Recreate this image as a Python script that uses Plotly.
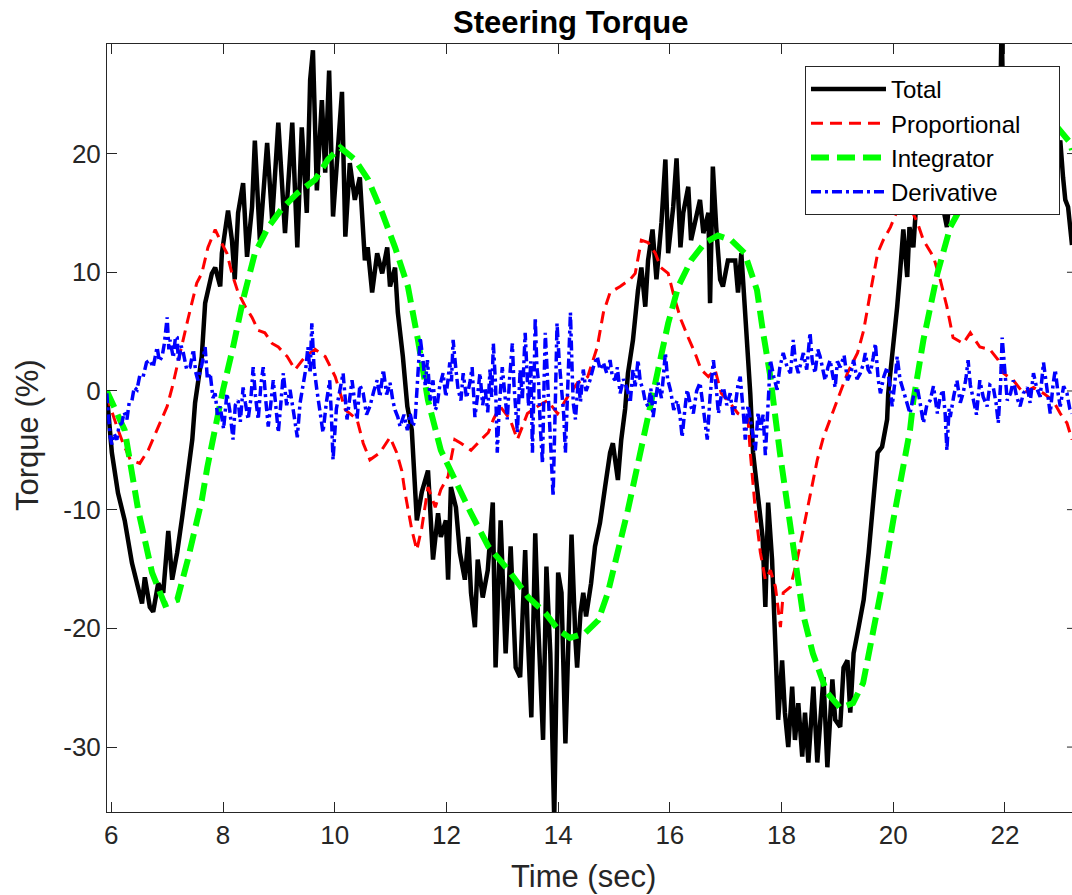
import plotly.graph_objects as go

# ---- Steering torque components (time in s, torque in %) ----
total_t = [5.92, 5.96, 6.01, 6.12, 6.24, 6.37, 6.48, 6.55, 6.60, 6.69, 6.75, 6.84, 6.93, 7.02, 7.09,
           7.18, 7.27, 7.36, 7.45, 7.50, 7.62, 7.68, 7.80, 7.86, 7.95, 7.98, 8.09, 8.16, 8.21, 8.27,
           8.36, 8.43, 8.52, 8.57, 8.66, 8.79, 8.88, 8.99, 9.11, 9.24, 9.33, 9.41, 9.50, 9.56, 9.61,
           9.68, 9.77, 9.83, 9.90, 9.97, 10.06, 10.13, 10.19, 10.27, 10.36, 10.45, 10.54, 10.59, 10.67,
           10.76, 10.85, 10.94, 10.99, 11.08, 11.13, 11.22, 11.30, 11.38, 11.47, 11.56, 11.67, 11.76,
           11.85, 11.90, 11.99, 12.03, 12.08, 12.17, 12.24, 12.33, 12.39, 12.44, 12.51, 12.56, 12.65,
           12.74, 12.83, 12.88, 12.97, 13.06, 13.15, 13.24, 13.32, 13.41, 13.46, 13.52, 13.59, 13.64,
           13.73, 13.79, 13.86, 13.93, 14.00, 14.06, 14.13, 14.18, 14.24, 14.31, 14.34, 14.40, 14.45,
           14.50, 14.59, 14.66, 14.75, 14.84, 14.93, 14.98, 15.07, 15.13, 15.20, 15.25, 15.34, 15.43,
           15.49, 15.56, 15.61, 15.69, 15.76, 15.85, 15.92, 15.97, 16.06, 16.12, 16.19, 16.24, 16.33,
           16.38, 16.45, 16.54, 16.60, 16.69, 16.72, 16.77, 16.83, 16.90, 16.95, 17.04, 17.17, 17.22,
           17.28, 17.37, 17.44, 17.49, 17.58, 17.66, 17.71, 17.76, 17.83, 17.89, 17.94, 18.01, 18.06,
           18.12, 18.19, 18.24, 18.30, 18.37, 18.42, 18.48, 18.57, 18.64, 18.69, 18.75, 18.82, 18.91,
           18.96, 19.05, 19.11, 19.18, 19.23, 19.29, 19.38, 19.47, 19.56, 19.63, 19.72, 19.80, 19.89,
           19.91, 20.00, 20.07, 20.12, 20.18, 20.25, 20.29, 20.36, 20.43, 20.48, 20.54, 20.61, 20.70,
           20.80, 20.89, 20.96, 21.05, 21.12, 21.20, 21.28, 21.36, 21.44, 21.52, 21.60, 21.68, 21.76,
           21.84, 21.90, 21.94, 21.98, 22.06, 22.14, 22.22, 22.30, 22.38, 22.46, 22.54, 22.62, 22.70,
           22.78, 22.86, 22.94, 22.99, 23.04, 23.08, 23.13, 23.17, 23.20]
total_y = [-0.3, -3.0, -5.2, -8.6, -10.9, -14.5, -16.5, -17.9, -15.7, -18.2, -18.6, -16.2, -17.0, -11.8, -15.9,
           -13.6, -10.6, -7.5, -4.1, -1.0, 2.9, 7.4, 9.9, 10.4, 8.8, 11.6, 15.2, 12.7, 9.4, 15.0,
           17.5, 11.3, 15.5, 21.1, 12.7, 20.9, 14.4, 22.6, 13.3, 22.6, 12.1, 22.2, 15.0, 26.2, 28.7,
           16.9, 24.5, 18.4, 27.0, 14.7, 20.6, 25.2, 13.0, 19.2, 16.1, 18.0, 11.0, 12.1, 8.3,
           11.6, 9.9, 12.1, 8.8, 10.4, 6.6, 2.9, -1.3, -3.3, -10.9, -8.5, -6.7, -14.2,
           -10.3, -12.3, -10.9, -15.9, -8.1, -9.8, -13.6, -15.9, -12.3, -17.0, -19.9, -14.2, -17.4,
           -15.1, -9.4, -23.3, -10.9, -22.1, -13.1, -23.3, -24.1, -13.4, -21.0, -27.5, -12.0, -19.3,
           -29.4, -14.8, -22.1, -36.1, -15.3, -17.0, -29.7, -20.4, -12.1, -21.0, -23.3, -18.7, -17.0,
           -19.0, -16.2, -13.1, -11.1, -8.1, -5.2, -4.4, -7.5, -4.1, -1.5, 1.5, 4.3, 8.5,
           10.4, 7.1, 11.0, 13.6, 9.4, 14.2, 19.5, 11.6, 15.5, 19.6, 12.1, 15.0, 17.2,
           12.7, 14.4, 16.1, 13.3, 15.0, 7.4, 18.9, 13.8, 9.4, 8.8, 11.0, 11.0, 8.3,
           11.6, 5.4, -0.2, -5.2, -9.4, -12.3, -18.2, -9.4, -14.2, -22.1, -27.7, -22.7, -27.1,
           -30.0, -24.9, -29.4, -26.3, -30.8, -27.1, -31.3, -24.9, -31.3, -27.7, -24.1, -31.7, -24.3,
           -27.7, -28.3, -23.3, -22.7, -27.1, -22.1, -19.9, -17.6, -13.6, -10.3, -5.2, -4.7, -2.4,
           -0.2, 3.7, 7.1, 9.9, 13.6, 9.6, 13.8, 12.1, 17.2, 15.0, 17.2, 15.8, 18.5,
           16.0, 15.5, 13.8, 18.5, 15.0, 20.0, 16.5, 21.5, 17.0, 22.0, 18.0, 23.0, 19.0,
           24.0, 20.0, 31.0, 21.0, 24.0, 19.0, 23.5, 18.5, 22.0, 19.5, 23.0, 20.0, 22.5,
           19.0, 21.5, 20.1, 21.1, 18.0, 16.1, 15.5, 13.8, 12.3]

prop_t = [5.92, 5.98, 6.10, 6.21, 6.34, 6.51, 6.66, 6.82, 7.00, 7.09, 7.23, 7.37, 7.53, 7.62, 7.73,
          7.86, 7.95, 8.07, 8.16, 8.27, 8.40, 8.52, 8.63, 8.75, 8.88, 8.99, 9.15, 9.29, 9.47, 9.65,
          9.83, 10.01, 10.19, 10.40, 10.51, 10.63, 10.81, 10.99, 11.11, 11.20, 11.26, 11.38, 11.47,
          11.56, 11.67, 11.80, 11.90, 12.03, 12.08, 12.15, 12.26, 12.44, 12.62, 12.75, 12.84, 12.96,
          13.14, 13.27, 13.45, 13.63, 13.81, 13.99, 14.17, 14.35, 14.53, 14.70, 14.81, 14.93, 15.11,
          15.29, 15.38, 15.49, 15.61, 15.74, 15.84, 15.97, 16.09, 16.20, 16.33, 16.45, 16.56, 16.69,
          16.81, 16.92, 17.04, 17.22, 17.40, 17.44, 17.53, 17.62, 17.71, 17.80, 17.89, 17.98, 18.03,
          18.16, 18.28, 18.39, 18.51, 18.64, 18.75, 18.87, 19.00, 19.18, 19.36, 19.47, 19.59, 19.72,
          19.82, 19.95, 20.07, 20.22, 20.30, 20.43, 20.54, 20.72, 20.84, 20.96, 21.07, 21.25, 21.38,
          21.55, 21.73, 21.88, 21.97, 22.15, 22.33, 22.51, 22.69, 22.86, 22.99, 23.11, 23.20]
prop_y = [-0.3, -1.3, -3.0, -4.4, -5.8, -6.1, -5.0, -3.3, -1.3, 0.3, 3.2, 6.0, 9.1, 9.9, 12.1,
          13.6, 12.7, 11.6, 9.9, 8.3, 7.1, 6.2, 5.1, 4.9, 4.0, 3.7, 2.9, 1.8, 2.9, 3.5,
          2.9, 1.2, -1.6, -2.4, -4.4, -5.8, -5.2, -3.9, -5.2, -6.7, -8.6, -11.7, -13.4,
          -11.5, -8.1, -9.8, -8.3, -7.2, -5.8, -4.1, -4.4, -5.0, -4.1, -3.5, -2.4, -1.3,
          -2.4, -4.1, -1.9, -1.3, -0.8, -1.9, -0.5, 0.7, 1.2, 3.7, 6.6, 8.3, 8.8,
          9.4, 9.9, 12.7, 12.5, 11.6, 10.4, 9.9, 7.7, 6.0, 4.5, 3.2, 1.8, 1.2,
          1.8, -0.2, -0.8, -1.9, -2.4, -5.2, -10.0, -13.6, -15.9, -15.1, -16.5, -19.9, -17.0,
          -16.5, -14.2, -11.7, -8.9, -5.8, -3.9, -2.4, -0.8, 1.5, 3.2, 5.1, 8.3, 11.6,
          12.7, 13.8, 15.2, 16.5, 15.5, 14.2, 12.7, 11.3, 9.4, 7.1, 4.5, 4.0, 4.9,
          3.7, 3.5, 2.6, 1.5, 0.9, -0.2, 0.3, -0.2, -0.8, -1.9, -2.7, -4.1]

integ_t = [5.92, 6.24, 6.48, 6.73, 6.96, 7.18, 7.37, 7.62, 7.72, 7.90, 8.00, 8.18, 8.36, 8.57, 8.81,
           9.06, 9.34, 9.65, 9.88, 10.10, 10.36, 10.60, 10.85, 11.08, 11.31, 11.49, 11.67, 11.90,
           12.15, 12.44, 12.75, 13.11, 13.47, 13.77, 14.00, 14.21, 14.48, 14.72, 14.89, 15.07, 15.25,
           15.43, 15.58, 15.79, 15.97, 16.15, 16.38, 16.63, 16.86, 17.10, 17.34, 17.49, 17.56, 17.67,
           17.79, 17.97, 18.10, 18.24, 18.38, 18.56, 18.81, 19.05, 19.28, 19.46, 19.64, 19.82, 20.00,
           20.18, 20.30, 20.36, 20.54, 20.79, 21.02, 21.25, 21.74, 22.27, 22.72, 22.94, 23.17, 23.20]
integ_y = [0.0, -3.3, -10.0, -15.3, -18.0, -17.6, -14.2, -9.2, -6.4, -1.9, 0.1, 3.7, 7.7, 11.6, 13.8,
           15.4, 16.7, 17.8, 19.5, 20.5, 19.5, 17.8, 15.0, 12.1, 8.8, 4.3, -0.8, -5.0,
           -7.5, -10.3, -13.1, -15.1, -17.4, -18.7, -20.1, -20.8, -20.4, -19.3, -17.0, -13.6, -10.0,
           -6.1, -3.0, 1.8, 5.7, 8.8, 11.0, 12.5, 13.1, 12.7, 11.6, 9.4, 8.5, 4.9,
           1.5, -5.2, -9.4, -14.2, -18.7, -22.1, -25.4, -26.7, -26.3, -24.6, -20.4, -15.9, -10.9,
           -6.7, -3.3, -0.8, 4.3, 9.9, 13.8, 15.8, 18.6, 21.1, 22.7, 22.2, 20.9, 20.3]

deriv_t = [5.92, 5.95, 5.98, 6.01, 6.05, 6.10, 6.14, 6.19, 6.23, 6.28, 6.32, 6.37, 6.41, 6.46, 6.51,
           6.57, 6.63, 6.69, 6.75, 6.82, 6.86, 6.91, 6.95, 7.00, 7.03, 7.05, 7.11, 7.15, 7.18, 7.20,
           7.25, 7.29, 7.35, 7.41, 7.47, 7.51, 7.55, 7.62, 7.68, 7.72, 7.77, 7.82, 7.86, 7.90, 7.95,
           8.01, 8.07, 8.12, 8.18, 8.22, 8.27, 8.31, 8.36, 8.40, 8.45, 8.50, 8.54, 8.58, 8.63, 8.68,
           8.72, 8.77, 8.81, 8.86, 8.90, 8.95, 8.99, 9.04, 9.08, 9.14, 9.20, 9.27, 9.33, 9.38, 9.43,
           9.48, 9.52, 9.56, 9.59, 9.63, 9.68, 9.73, 9.79, 9.85, 9.91, 9.94, 9.97, 10.03, 10.09, 10.15,
           10.22, 10.27, 10.31, 10.36, 10.40, 10.45, 10.51, 10.57, 10.63, 10.70, 10.76, 10.81, 10.87,
           10.93, 10.99, 11.04, 11.08, 11.13, 11.17, 11.24, 11.30, 11.35, 11.40, 11.44, 11.49, 11.53,
           11.58, 11.62, 11.66, 11.71, 11.76, 11.80, 11.83, 11.88, 11.94, 11.99, 12.03, 12.06, 12.09,
           12.12, 12.17, 12.21, 12.26, 12.30, 12.36, 12.42, 12.46, 12.51, 12.56, 12.60, 12.65, 12.69,
           12.74, 12.78, 12.81, 12.84, 12.88, 12.91, 12.95, 13.00, 13.04, 13.09, 13.13, 13.18, 13.21,
           13.23, 13.27, 13.32, 13.36, 13.41, 13.44, 13.47, 13.51, 13.54, 13.57, 13.59, 13.62, 13.65,
           13.68, 13.72, 13.75, 13.77, 13.80, 13.83, 13.87, 13.91, 13.95, 13.98, 14.02, 14.07, 14.10,
           14.13, 14.17, 14.22, 14.25, 14.27, 14.31, 14.36, 14.40, 14.45, 14.50, 14.57, 14.63, 14.70,
           14.75, 14.81, 14.87, 14.93, 14.97, 15.02, 15.06, 15.11, 15.17, 15.24, 15.29, 15.34, 15.38,
           15.43, 15.47, 15.52, 15.56, 15.61, 15.66, 15.70, 15.75, 15.79, 15.85, 15.92, 15.96, 16.01,
           16.07, 16.13, 16.18, 16.22, 16.27, 16.31, 16.37, 16.42, 16.48, 16.54, 16.60, 16.67, 16.72,
           16.78, 16.83, 16.87, 16.92, 16.96, 17.02, 17.08, 17.13, 17.17, 17.22, 17.26, 17.31, 17.35,
           17.40, 17.44, 17.49, 17.53, 17.58, 17.62, 17.67, 17.71, 17.76, 17.80, 17.86, 17.92, 17.97,
           18.03, 18.10, 18.16, 18.21, 18.25, 18.30, 18.35, 18.39, 18.45, 18.51, 18.55, 18.60, 18.65,
           18.69, 18.74, 18.78, 18.83, 18.87, 18.92, 18.96, 19.00, 19.05, 19.12, 19.18, 19.24, 19.29,
           19.35, 19.41, 19.46, 19.50, 19.55, 19.59, 19.64, 19.68, 19.73, 19.77, 19.83, 19.89, 19.94,
           19.98, 20.03, 20.07, 20.12, 20.18, 20.24, 20.30, 20.36, 20.43, 20.48, 20.54, 20.60, 20.66,
           20.72, 20.79, 20.84, 20.89, 20.93, 20.96, 21.00, 21.02, 21.08, 21.14, 21.20, 21.25, 21.30,
           21.34, 21.38, 21.43, 21.49, 21.55, 21.61, 21.68, 21.73, 21.79, 21.84, 21.88, 21.92, 21.95,
           22.00, 22.04, 22.10, 22.15, 22.21, 22.27, 22.33, 22.40, 22.45, 22.51, 22.57, 22.63, 22.69,
           22.75, 22.81, 22.86, 22.90, 22.95, 22.99, 23.05, 23.11, 23.16, 23.20]
deriv_y = [-0.2, -2.5, -3.9, -4.5, -3.6, -4.1, -2.9, -2.7, -1.8, -2.4, -1.0, -0.8, 0.3, 0.1, 1.3,
           1.2, 2.4, 2.6, 2.0, 3.7, 2.5, 2.9, 4.0, 6.2, 3.5, 4.3, 2.8, 4.6, 4.5, 2.4,
           3.8, 3.2, 1.8, 2.0, 3.5, 1.6, 0.9, 2.2, 3.7, 1.0, 1.5, -0.6, -0.2, -2.0, -1.3,
           -3.2, -0.2, -1.6, -4.1, -1.2, -0.8, -2.6, 0.3, -1.0, -2.4, -0.6, 2.0, -0.4, -2.4, 0.6,
           2.0, -1.0, -3.0, -0.9, 0.9, -1.5, -3.5, -0.8, 1.5, -1.2, 0.1, -2.0, -3.9, -1.0, 0.3,
           1.8, 3.7, 1.5, 5.7, 2.0, 0.1, -1.7, -3.5, -1.0, 0.9, -2.0, -5.8, -1.5, 0.1, 1.5,
           -2.4, -0.5, 0.9, -1.0, -2.4, 0.5, -0.2, -2.0, -1.3, 0.0, 0.9, -0.5, 1.8,
           -0.3, 0.7, -0.8, -1.6, -2.2, -3.0, -2.0, -3.3, -1.9, -3.0, -2.4, 1.0, 4.5,
           2.6, 0.5, 2.6, -0.8, 0.9, -1.6, -1.3, 0.4, 1.5, -0.5, 1.0, 2.4, 0.8,
           4.3, 1.8, 0.1, -0.8, 1.5, -0.6, 0.7, 2.0, -2.2, -0.3, 1.5, -1.2, 0.3,
           -1.8, 1.8, -0.5, 4.0, 0.5, -5.2, -1.0, 2.0, 0.0, -2.4, 1.0, 4.0, 0.5,
           -1.3, -3.5, 1.8, -0.6, 4.9, 1.2, -1.3, 2.5, -5.2, 1.0, 6.2, 2.0, 0.7,
           -3.0, -6.1, 1.0, 4.9, 2.0, -1.0, -4.0, -8.9, -1.0, 5.7, 2.5, 0.1, -2.0,
           -5.2, 0.5, 6.6, 1.8, -1.0, -2.4, 0.9, -0.9, 1.8, 0.0, 0.9, 2.0, 2.9,
           1.8, 2.4, 1.5, 2.6, 1.2, 0.9, 2.0, -0.2, 1.0, 0.1, -1.0, 1.8, 0.4,
           2.6, 0.8, 0.1, -0.9, -1.3, 0.2, -2.2, -0.5, 0.7, -0.6, 3.2, 1.0, 0.1,
           -1.6, -0.8, -2.0, -3.9, -1.5, 0.1, -1.2, -1.9, 0.0, 0.7, -1.5, -4.1, -0.5,
           2.6, 0.3, -1.9, -0.4, 0.3, -1.2, -0.2, -2.0, -1.3, 0.5, 1.2, -1.5, -4.1,
           -1.2, -2.4, -3.5, -5.0, -1.8, -3.3, -2.0, -5.4, -1.0, 2.6, 1.2, 0.1, 2.0,
           3.2, 2.0, 1.5, 4.3, 2.4, 1.5, 2.5, 3.2, 1.8, 4.9, 2.5, 1.5, 3.5,
           2.9, 1.8, 0.9, 2.0, 2.6, 1.2, 0.3, 2.5, 2.0, 3.0, 0.9, 1.5, 2.6,
           1.0, 1.5, 2.2, 3.2, 1.8, 1.5, 2.8, 4.0, 1.0, -0.2, 1.2, 2.0, 0.5,
           -1.3, 0.8, 2.9, 1.0, 0.1, -0.8, -1.9, -0.5, 0.3, -1.0, -2.7, -1.2, -0.8,
           0.4, -1.9, -0.5, 0.1, -2.0, -5.0, -1.5, -2.2, -0.5, 0.9, -1.0, -0.2, 1.0,
           2.6, 0.5, -0.8, -2.0, 0.9, -0.5, -1.3, 0.5, 0.3, -1.0, -2.7, 0.5, 4.5,
           1.0, -0.8, -0.2, 0.9, -0.5, -1.3, -0.2, 0.3, -1.0, 1.5, 0.2, -0.5, 2.4,
           0.0, -1.9, 0.5, 1.8, -0.2, -1.3, 0.4, -0.2, -1.5, -1.9]

x_ticks = [6, 8, 10, 12, 14, 16, 18, 20, 22]
y_ticks = [-30, -20, -10, 0, 10, 20]

FONT = "Liberation Sans, Arial, Helvetica, sans-serif"
AXIS_COLOR = "#262626"
PAD = "\u00a0" * 5  # widens the legend box

fig = go.Figure()
fig.add_trace(go.Scatter(x=total_t, y=total_y, mode="lines", name="Total",
                         line=dict(color="black", width=4.5)))
fig.add_trace(go.Scatter(x=prop_t, y=prop_y, mode="lines", name="Proportional" + PAD,
                         line=dict(color="#ff0000", width=3, dash="12px,7px")))
fig.add_trace(go.Scatter(x=integ_t, y=integ_y, mode="lines", name="Integrator",
                         line=dict(color="#00ff00", width=6, dash="18px,8px")))
fig.add_trace(go.Scatter(x=deriv_t, y=deriv_y, mode="lines", name="Derivative",
                         line=dict(color="#0000ff", width=3.5, dash="10px,4px,3px,4px")))

# short tick marks on the right-hand frame edge
right_ticks = [dict(type="line", xref="paper", yref="y", x0=0.9948, x1=1.0, y0=v, y1=v,
                    line=dict(color=AXIS_COLOR, width=1)) for v in y_ticks]

fig.update_layout(
    width=1072, height=895,
    margin=dict(l=107, r=0, t=44, b=83),
    paper_bgcolor="white", plot_bgcolor="white",
    font=dict(family=FONT, color=AXIS_COLOR),
    showlegend=True,
    legend=dict(x=0.7233, y=0.9714, xanchor="left", yanchor="top",
                bgcolor="white", bordercolor=AXIS_COLOR, borderwidth=1,
                font=dict(family=FONT, size=24, color="black"),
                itemwidth=75, tracegroupgap=0),
    shapes=right_ticks,
    xaxis=dict(range=[5.923, 23.20], tickvals=x_ticks, ticktext=[str(v) for v in x_ticks],
               showgrid=False, zeroline=False, showline=True, linecolor=AXIS_COLOR, linewidth=1,
               mirror="ticks", ticks="inside", ticklen=10, tickcolor=AXIS_COLOR,
               tickfont=dict(family=FONT, size=26, color=AXIS_COLOR)),
    yaxis=dict(range=[-35.47, 29.23], tickvals=y_ticks, ticktext=[str(v) for v in y_ticks],
               showgrid=False, zeroline=False, showline=True, linecolor=AXIS_COLOR, linewidth=1,
               mirror=False, ticks="inside", ticklen=10, tickcolor=AXIS_COLOR,
               tickfont=dict(family=FONT, size=26, color=AXIS_COLOR)),
    annotations=[
        dict(text="<b>Steering Torque</b>", xref="paper", yref="paper", x=0.4798, y=1.0286,
             xanchor="center", yanchor="middle", showarrow=False,
             font=dict(family=FONT, size=31, color="black")),
        dict(text="Time (sec)", xref="paper", yref="paper", x=0.4943, y=-0.0846,
             xanchor="center", yanchor="middle", showarrow=False,
             font=dict(family=FONT, size=31, color=AXIS_COLOR)),
        dict(text="Torque (%)", xref="paper", yref="paper", x=-0.0819, y=0.4909,
             xanchor="center", yanchor="middle", showarrow=False, textangle=-90,
             font=dict(family=FONT, size=31, color=AXIS_COLOR)),
    ],
)

fig.write_html("out.html", config={"displayModeBar": False})
